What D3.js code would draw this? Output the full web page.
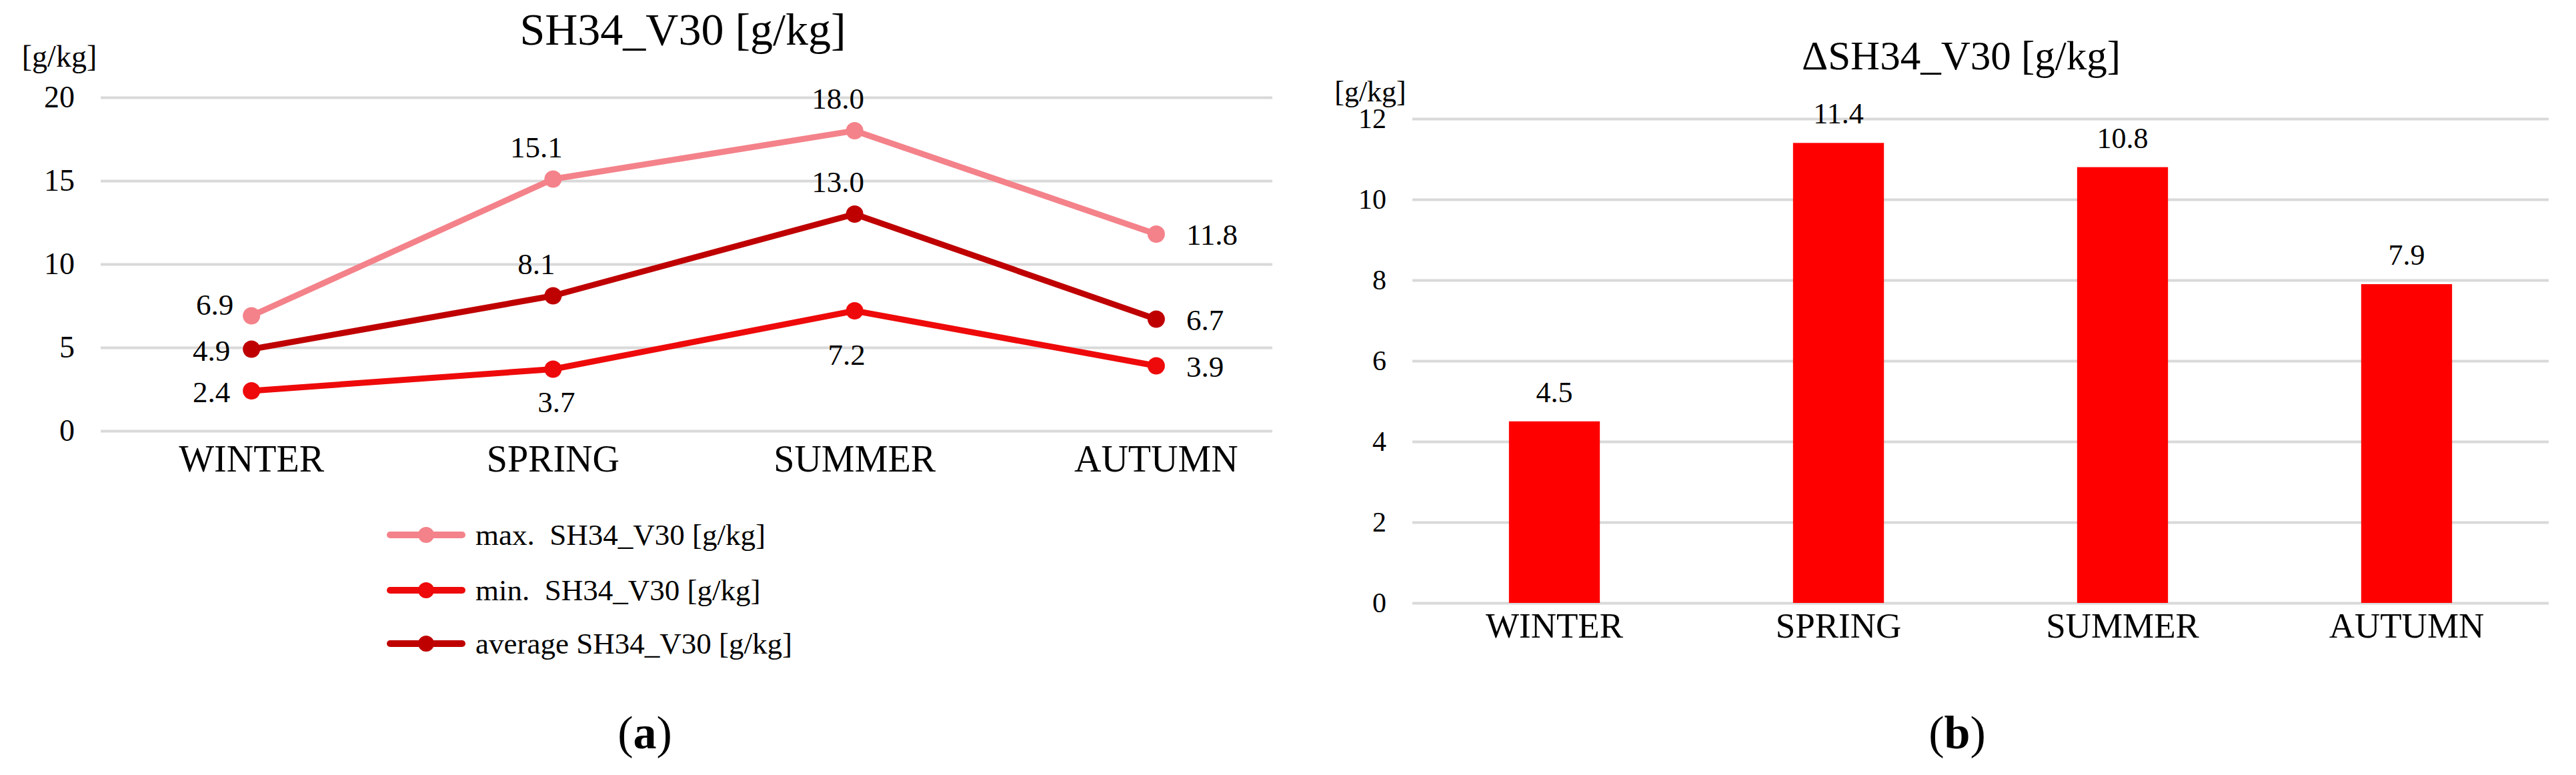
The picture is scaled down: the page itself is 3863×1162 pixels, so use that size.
<!DOCTYPE html>
<html>
<head>
<meta charset="utf-8">
<script src="https://cdn.jsdelivr.net/npm/d3@7"></script>
<style>
  body { margin: 0; background: white; }
  text { font-family: "Liberation Serif", "Times New Roman", serif; fill: #000; }
</style>
</head>
<body>
<div id="wrapper"></div>
<script>
// data
const seasons = ["WINTER", "SPRING", "SUMMER", "AUTUMN"];
const maxValues = [6.9, 15.1, 18.0, 11.8];
const minValues = [2.4, 3.7, 7.2, 3.9];
const avgValues = [4.9, 8.1, 13.0, 6.7];
const deltaValues = [4.5, 11.4, 10.8, 7.9];
const leftTicks = [0, 5, 10, 15, 20];
const rightTicks = [0, 2, 4, 6, 8, 10, 12];

// where each data label sits relative to its point
const maxLabelPos = ["leftHigh", "above", "above", "right"];
const minLabelPos = ["left", "below", "below2", "right"];
const avgLabelPos = ["left", "above", "above", "right"];

const colors = {
  max: "#f4828a",
  min: "#ee0a0a",
  avg: "#bf0000",
  bar: "#ff0000",
  grid: "#d9d9d9"
};

const series = [
  {name: "max.  SH34_V30 [g/kg]", values: maxValues, color: colors.max, pos: maxLabelPos},
  {name: "min.  SH34_V30 [g/kg]", values: minValues, color: colors.min, pos: minLabelPos},
  {name: "average SH34_V30 [g/kg]", values: avgValues, color: colors.avg, pos: avgLabelPos}
];

const W = 3863, H = 1162;
const svg = d3.select("#wrapper").append("svg")
  .attr("width", W)
  .attr("height", H);

//------------------------- (a) line chart -------------------------
const la = {left: 151, gridRight: 1908, right: 1960, top: 146, bottom: 646};

const xA = d3.scaleBand().domain(seasons).range([la.left, la.right]);
const yA = d3.scaleLinear().domain([0, 20]).range([la.bottom, la.top]);
const cx = d => xA(d) + xA.bandwidth() / 2;

const gA = svg.append("g");

// grid + tick labels
const axA = gA.append("g")
  .attr("transform", `translate(${la.left},0)`)
  .call(d3.axisLeft(yA).tickValues(leftTicks).tickSize(-(la.gridRight - la.left)).tickPadding(39));
axA.select(".domain").remove();
axA.selectAll("line").attr("stroke", colors.grid).attr("stroke-width", 4);
axA.selectAll("text").attr("font-size", 46).attr("font-family", "Liberation Serif").attr("fill", "#000");

gA.append("text")
  .attr("x", 1024).attr("y", 67)
  .attr("text-anchor", "middle")
  .attr("font-size", 68)
  .text("SH34_V30 [g/kg]");

gA.append("text")
  .attr("x", 89).attr("y", 100)
  .attr("text-anchor", "middle")
  .attr("font-size", 46)
  .text("[g/kg]");

gA.selectAll(".xlab").data(seasons).join("text")
  .attr("class", "xlab")
  .attr("x", d => cx(d))
  .attr("y", 707)
  .attr("text-anchor", "middle")
  .attr("font-size", 56)
  .text(d => d);

const line = d3.line().x((d, i) => cx(seasons[i])).y(d => yA(d));

// max first, then min, avg on top like in the original
series.forEach(s => {
  const g = gA.append("g");
  g.append("path")
    .attr("d", line(s.values))
    .attr("fill", "none")
    .attr("stroke", s.color)
    .attr("stroke-width", 9)
    .attr("stroke-linejoin", "round");
  g.selectAll("circle").data(s.values).join("circle")
    .attr("cx", (d, i) => cx(seasons[i]))
    .attr("cy", d => yA(d))
    .attr("r", 13)
    .attr("fill", s.color);
});

// data labels
const offsets = {
  left:     {dx: -32, dy: 17, anchor: "end"},
  leftHigh: {dx: -27, dy: -2, anchor: "end"},
  right:    {dx: 45, dy: 16, anchor: "start"},
  above:    {dx: -25, dy: -33, anchor: "middle"},
  below:    {dx: 5, dy: 64, anchor: "middle"},
  below2:   {dx: -12, dy: 81, anchor: "middle"}
};
series.forEach(s => {
  gA.append("g").selectAll("text").data(s.values).join("text")
    .attr("x", (d, i) => cx(seasons[i]) + offsets[s.pos[i]].dx)
    .attr("y", d => yA(d))
    .attr("dy", (d, i) => offsets[s.pos[i]].dy)
    .attr("text-anchor", (d, i) => offsets[s.pos[i]].anchor)
    .attr("font-size", 45)
    .text(d => d.toFixed(1));
});

// legend
const legend = gA.append("g");
const legendY = [802, 885, 965];
series.forEach((s, i) => {
  const item = legend.append("g").attr("transform", `translate(0,${legendY[i]})`);
  item.append("line")
    .attr("x1", 585).attr("x2", 693)
    .attr("y1", 0).attr("y2", 0)
    .attr("stroke", s.color)
    .attr("stroke-width", 10)
    .attr("stroke-linecap", "round");
  item.append("circle").attr("cx", 639).attr("cy", 0).attr("r", 12).attr("fill", s.color);
  item.append("text")
    .attr("x", 713).attr("y", 15)
    .attr("font-size", 45)
    .style("white-space", "pre")
    .text(s.name);
});

gA.append("text")
  .attr("x", 967).attr("y", 1122)
  .attr("text-anchor", "middle")
  .attr("font-size", 70)
  .html('(<tspan font-weight="bold">a</tspan>)');

//------------------------- (b) bar chart -------------------------
const lb = {left: 2118, right: 3822, top: 178, bottom: 904};

const xB = d3.scaleBand().domain(seasons).range([lb.left, lb.right])
  .paddingInner(0.68).paddingOuter(0.34);
const yB = d3.scaleLinear().domain([0, 12]).range([lb.bottom, lb.top]);

const gB = svg.append("g");

const axB = gB.append("g")
  .attr("transform", `translate(${lb.left},0)`)
  .call(d3.axisLeft(yB).tickValues(rightTicks).tickSize(-(lb.right - lb.left)).tickPadding(39));
axB.select(".domain").remove();
axB.selectAll("line").attr("stroke", colors.grid).attr("stroke-width", 4);
axB.selectAll("text").attr("font-size", 42).attr("font-family", "Liberation Serif").attr("fill", "#000");

gB.append("text")
  .attr("x", 2941).attr("y", 104)
  .attr("text-anchor", "middle")
  .attr("font-size", 61)
  .text("ΔSH34_V30 [g/kg]");

gB.append("text")
  .attr("x", 2055).attr("y", 152)
  .attr("text-anchor", "middle")
  .attr("font-size", 44)
  .text("[g/kg]");

gB.selectAll(".bar").data(deltaValues).join("rect")
  .attr("class", "bar")
  .attr("x", (d, i) => xB(seasons[i]))
  .attr("width", xB.bandwidth())
  .attr("y", d => yB(d))
  .attr("height", d => yB(0) - yB(d))
  .attr("fill", colors.bar);

gB.selectAll(".barlab").data(deltaValues).join("text")
  .attr("class", "barlab")
  .attr("x", (d, i) => xB(seasons[i]) + xB.bandwidth() / 2)
  .attr("y", d => yB(d) - 29)
  .attr("text-anchor", "middle")
  .attr("font-size", 44)
  .text(d => d.toFixed(1));

gB.selectAll(".xlab").data(seasons).join("text")
  .attr("class", "xlab")
  .attr("x", d => xB(d) + xB.bandwidth() / 2)
  .attr("y", 956)
  .attr("text-anchor", "middle")
  .attr("font-size", 53)
  .text(d => d);

gB.append("text")
  .attr("x", 2935).attr("y", 1122)
  .attr("text-anchor", "middle")
  .attr("font-size", 70)
  .html('(<tspan font-weight="bold">b</tspan>)');
</script>
</body>
</html>
